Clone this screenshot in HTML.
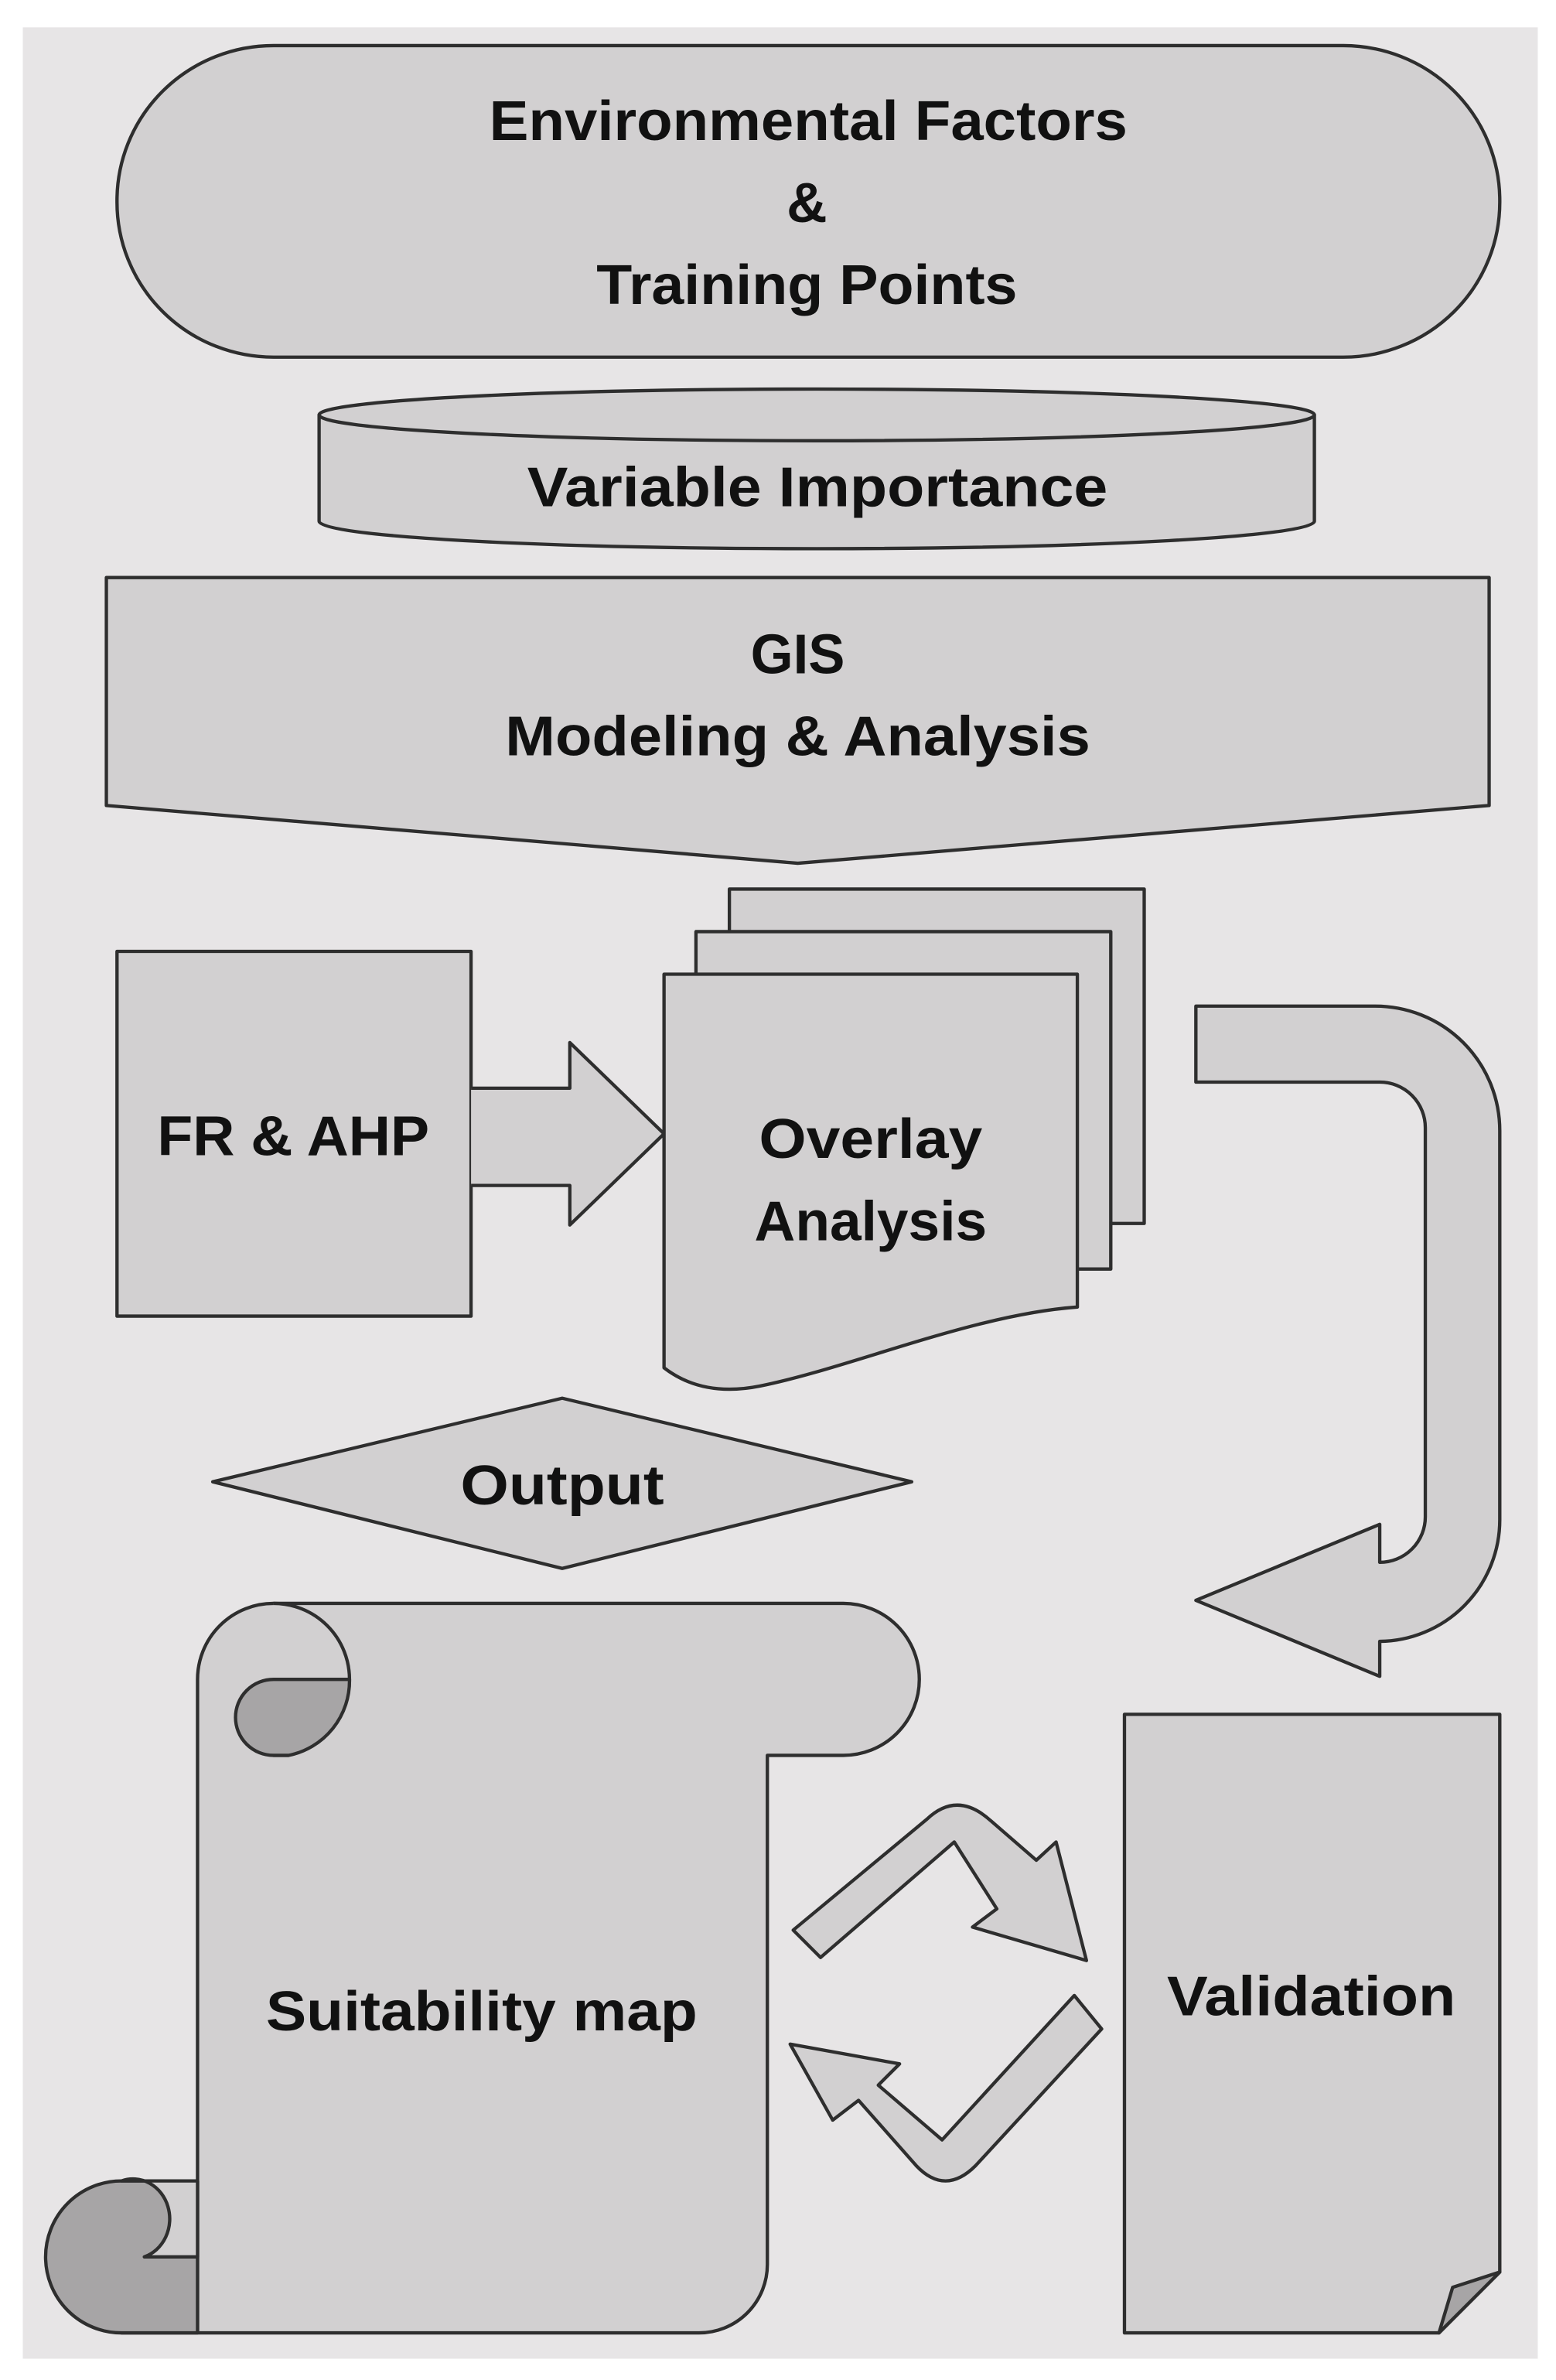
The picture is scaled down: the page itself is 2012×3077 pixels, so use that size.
<!DOCTYPE html>
<html><head><meta charset="utf-8"><style>
html,body{margin:0;padding:0;background:#fff;}
svg{display:block;}
text{font-family:"Liberation Sans",sans-serif;font-weight:bold;fill:#111;font-size:37px;}
</style></head><body>
<svg width="2012" height="3077" viewBox="0 0 1024 1566" preserveAspectRatio="none" xmlns="http://www.w3.org/2000/svg">
<rect x="0" y="0" width="1024" height="1566" fill="#fff"/>
<rect x="15" y="18" width="997" height="1534" fill="#e7e5e6"/>
<g fill="#d2d0d1" stroke="#2e2e2e" stroke-width="2.2" stroke-linejoin="round">
<!-- stadium -->
<rect x="77" y="30" width="910" height="205" rx="103" ry="102"/>
<!-- cylinder -->
<path d="M210,273 L210,343 A327,18 0 0 0 865,343 L865,273"/>
<ellipse cx="537.5" cy="273" rx="327.5" ry="17"/>
<!-- GIS pentagon -->
<path d="M70,380 L980,380 L980,530 L525,568 L70,530 Z"/>
<!-- FR & AHP -->
<rect x="77" y="626" width="233" height="240"/>
<path d="M310,716 L375,716 L375,686 L437,746 L375,806 L375,780 L310,780"/>
<!-- multi doc -->
<rect x="480" y="585" width="273" height="220"/>
<rect x="458" y="613" width="273" height="222"/>
<path d="M437,641 L709,641 L709,860 C640,865 560,900 500,912 C470,918 450,910 437,900 Z"/>
<!-- curved arrow -->
<path d="M787,662 L905,662 A82,82 0 0 1 987,744 L987,1000 A80,80 0 0 1 908,1080 L908,1103 L787,1053 L908,1003 L908,1028 A30,30 0 0 0 938,998 L938,742 A30,30 0 0 0 908,712 L787,712 Z"/>
<!-- diamond -->
<path d="M140,975 L370,920 L600,975 L370,1032 Z"/>
<!-- scroll -->
<path d="M130,1105 A50,50 0 0 1 180,1055 L555,1055 A50,50 0 0 1 555,1155 L505,1155 L505,1490 A45,45 0 0 1 460,1535 L80,1535 L130,1535 Z"/>
<path d="M180,1055 A50,50 0 0 1 180,1155 L190,1155"/>
<path d="M180,1105 L230,1105 A50,50 0 0 1 190,1155 L180,1155 A25,25 0 0 1 180,1105 Z" fill="#a7a5a6"/>
<path d="M130,1435 L130,1535 L80,1535 A50,50 0 0 1 80,1435 Z" fill="#a7a5a6"/>
<path d="M80,1435 L130,1435 L130,1485 L95,1485 A23,25 0 0 0 80,1435 Z" fill="#d2d0d1"/>
<!-- validation -->
<path d="M740,1128 L987,1128 L987,1495 L947,1535 L740,1535 Z"/>
<path d="M987,1495 L947,1535 L956,1505 Z" fill="#a7a5a6"/>
<!-- cycle arrows -->
<path d="M522,1270 L540,1288 L628,1212 L656,1256 L640,1268 L715,1290 L695,1212 L682,1224 L652,1198 Q630,1178 610,1197 Z"/>
<path d="M707,1313 L725,1335 L642,1425 Q622,1445 603,1425 L565,1382 L548,1395 L520,1345 L592,1358 L578,1372 L620,1408 Z"/>
</g>
<g text-anchor="middle">
<text x="532" y="92" textLength="420" lengthAdjust="spacingAndGlyphs">Environmental Factors</text>
<text x="531" y="146">&amp;</text>
<text x="531" y="200" textLength="277" lengthAdjust="spacingAndGlyphs">Training Points</text>
<text x="538" y="333" textLength="382" lengthAdjust="spacingAndGlyphs">Variable Importance</text>
<text x="525" y="443" textLength="62" lengthAdjust="spacingAndGlyphs">GIS</text>
<text x="525" y="497" textLength="385" lengthAdjust="spacingAndGlyphs">Modeling &amp; Analysis</text>
<text x="193" y="760" textLength="179" lengthAdjust="spacingAndGlyphs">FR &amp; AHP</text>
<text x="573" y="762" textLength="147" lengthAdjust="spacingAndGlyphs">Overlay</text>
<text x="573" y="816" textLength="153" lengthAdjust="spacingAndGlyphs">Analysis</text>
<text x="370" y="990" textLength="134" lengthAdjust="spacingAndGlyphs">Output</text>
<text x="317" y="1336" textLength="284" lengthAdjust="spacingAndGlyphs">Suitability map</text>
<text x="863" y="1326" textLength="190" lengthAdjust="spacingAndGlyphs">Validation</text>
</g>
</svg>
</body></html>
